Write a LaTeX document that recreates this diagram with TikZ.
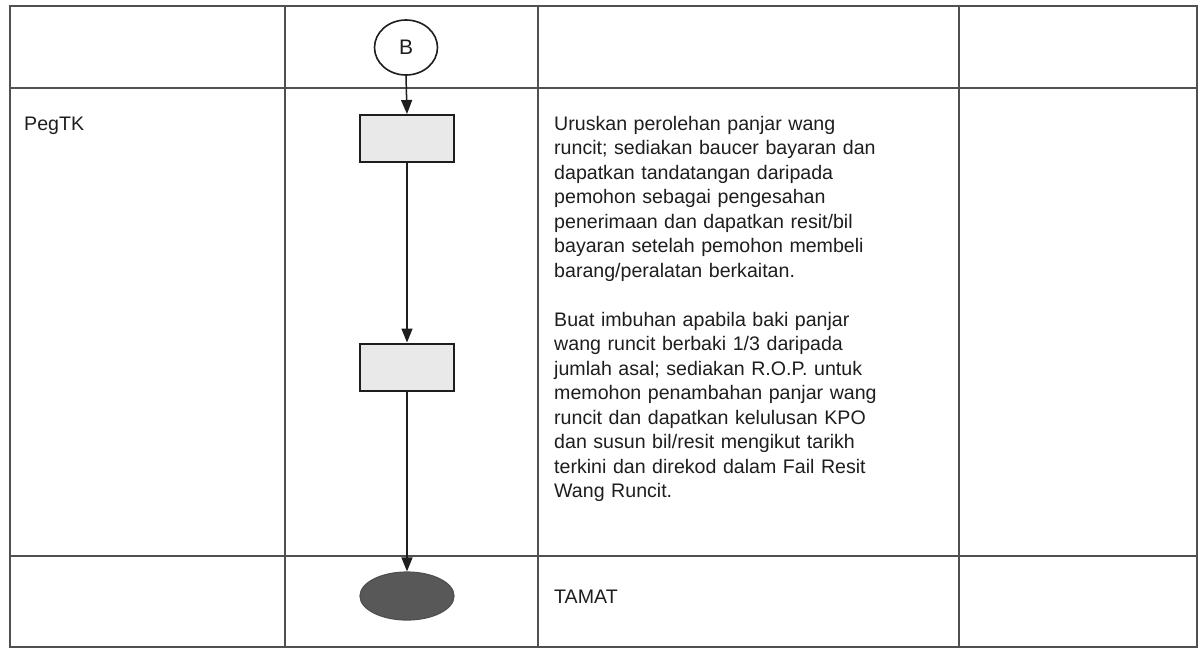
\documentclass[tikz,border=0pt]{standalone}
\usepackage{fontspec}
\setmainfont{Liberation Sans}
\usetikzlibrary{shapes.geometric,arrows.meta}
\definecolor{ln}{HTML}{505050}
\definecolor{tx}{HTML}{1E1E1E}
\definecolor{boxfill}{HTML}{E9E9E9}
\definecolor{endfill}{HTML}{585858}
\tikzset{
  grid/.style={draw=ln, line width=1.4pt},
  procbox/.style={draw=tx, line width=2pt, fill=boxfill, minimum width=94pt, minimum height=47pt, inner sep=0pt},
  connector/.style={draw=tx, ellipse, line width=1.6pt, minimum width=63pt, minimum height=55pt, inner sep=0pt, text=tx, font=\fontsize{21}{24}\selectfont},
  terminator/.style={draw=ln, ellipse, line width=1.2pt, fill=endfill, minimum width=94pt, minimum height=48pt, inner sep=0pt},
  flow/.style={draw=tx, line width=1.5pt, -{Triangle[length=14pt,width=11pt]}},
  celltext/.style={text=tx, anchor=base west, inner sep=0pt, font=\fontsize{19.6}{24.5}\selectfont, align=left}
}
\begin{document}
\begin{tikzpicture}[x=1pt,y=-1pt]
\useasboundingbox (0,0) rectangle (1200,649);
\fill[white] (0,0) rectangle (1200,649);
% table grid
\draw[grid] (10,6) rectangle (1197,647);
\draw[grid] (10,88) -- (1197,88);
\draw[grid] (10,556) -- (1197,556);
\draw[grid] (285,6) -- (285,647);
\draw[grid] (538,6) -- (538,647);
\draw[grid] (959,6) -- (959,647);
% nodes
\node[connector] (b) at (406,47.5) {B};
\node[procbox] (p1) at (407,138.5) {};
\node[procbox] (p2) at (407,367) {};
\node[terminator] (e) at (407,596) {};
\draw[flow] (b.south) -- (p1.north);
\draw[flow] (p1.south) -- (p2.north);
\draw[flow] (p2.south) -- (e.north);
% texts
\node[celltext] (role) at (24,130) {PegTK};
\node[celltext, text width=420pt] (desc) at (554,130) {Uruskan perolehan panjar wang\\
runcit; sediakan baucer bayaran dan\\
dapatkan tandatangan daripada\\
pemohon sebagai pengesahan\\
penerimaan dan dapatkan resit/bil\\
bayaran setelah pemohon membeli\\
barang/peralatan berkaitan.\\[24.5pt]
Buat imbuhan apabila baki panjar\\
wang runcit berbaki 1/3 daripada\\
jumlah asal; sediakan R.O.P. untuk\\
memohon penambahan panjar wang\\
runcit dan dapatkan kelulusan KPO\\
dan susun bil/resit mengikut tarikh\\
terkini dan direkod dalam Fail Resit\\
Wang Runcit.};
\node[celltext] (tamat) at (554,603) {TAMAT};
\end{tikzpicture}
\end{document}
